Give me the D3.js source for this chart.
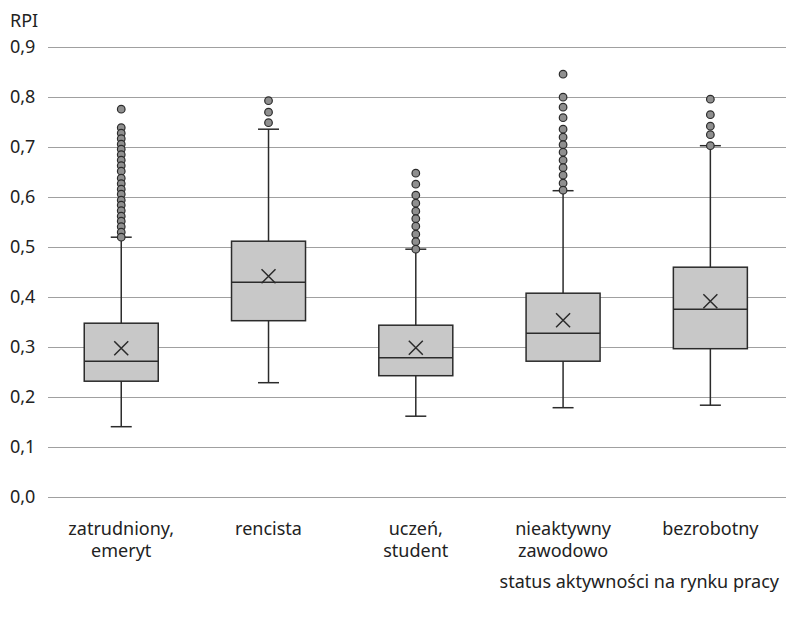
<!DOCTYPE html>
<html>
<head>
<meta charset="utf-8">
<script src="https://cdn.jsdelivr.net/npm/d3@7"></script>
<style>
  body { margin: 0; background: #fff; }
  text { font-family: "Noto Sans", "Open Sans", sans-serif; fill: #222; }
</style>
</head>
<body>
<svg></svg>
<script>
// --------------- data
const categories = [
  ['zatrudniony,', 'emeryt'],
  ['rencista'],
  ['uczeń,', 'student'],
  ['nieaktywny', 'zawodowo'],
  ['bezrobotny']
];
const whiskerLow = [0.140, 0.228, 0.161, 0.178, 0.183];
const q1 = [0.231, 0.352, 0.242, 0.271, 0.296];
const median = [0.271, 0.429, 0.278, 0.327, 0.375];
const q3 = [0.347, 0.511, 0.343, 0.407, 0.459];
const whiskerHigh = [0.519, 0.735, 0.495, 0.612, 0.702];
const mean = [0.297, 0.441, 0.298, 0.353, 0.391];
const outliers = [
  [0.775, 0.738, 0.727, 0.716, 0.705, 0.695, 0.684, 0.673, 0.662, 0.651, 0.637,
   0.626, 0.615, 0.605, 0.593, 0.583, 0.572, 0.561, 0.551, 0.540, 0.529, 0.519],
  [0.792, 0.769, 0.748],
  [0.647, 0.625, 0.603, 0.587, 0.571, 0.556, 0.541, 0.525, 0.510, 0.495],
  [0.845, 0.799, 0.779, 0.758, 0.735, 0.719, 0.704, 0.689, 0.673, 0.658, 0.643,
   0.627, 0.613],
  [0.795, 0.764, 0.741, 0.724, 0.702]
];
const yTicks = [0, 0.1, 0.2, 0.3, 0.4, 0.5, 0.6, 0.7, 0.8, 0.9];

// setup
const width = 786;
const height = 620;
const fontSize = 18;
const svg = d3.select('svg').attr('width', width).attr('height', height);

const yScale = d3.scaleLinear().domain([0, 0.9]).range([496.7, 46.7]);
const xScale = d3.scaleBand()
  .domain(d3.range(categories.length))
  .range([47.6, 784]);
const boxW = 74;
const capW = 21;
const fmt = function (v) { return d3.format('.1f')(v).replace('.', ','); };

// grid
svg.append('g')
  .selectAll('line')
  .data(yTicks)
  .enter()
  .append('line')
  .attr('x1', 48)
  .attr('x2', width)
  .attr('y1', function (d) { return Math.round(yScale(d)) + 0.5; })
  .attr('y2', function (d) { return Math.round(yScale(d)) + 0.5; })
  .attr('stroke', '#a0a0a0')
  .attr('stroke-width', 1.2);

// y labels
svg.append('g')
  .selectAll('text')
  .data(yTicks)
  .enter()
  .append('text')
  .attr('x', 10)
  .attr('y', function (d) { return yScale(d) + 6; })
  .attr('font-size', fontSize)
  .text(fmt);

svg.append('text')
  .attr('x', 10)
  .attr('y', 27)
  .attr('font-size', fontSize)
  .text('RPI');

// boxes
const cx = function (i) { return xScale(i) + xScale.bandwidth() / 2; };
const g = svg.append('g');
const stroke = '#2b2b2b';

categories.forEach(function (c, i) {
  const x = cx(i);
  // whiskers
  g.append('line')
    .attr('x1', x).attr('x2', x)
    .attr('y1', yScale(whiskerLow[i])).attr('y2', yScale(whiskerHigh[i]))
    .attr('stroke', stroke).attr('stroke-width', 1.5);
  [whiskerLow[i], whiskerHigh[i]].forEach(function (v) {
    g.append('line')
      .attr('x1', x - capW / 2).attr('x2', x + capW / 2)
      .attr('y1', yScale(v)).attr('y2', yScale(v))
      .attr('stroke', stroke).attr('stroke-width', 1.5);
  });
  // box
  g.append('rect')
    .attr('x', x - boxW / 2)
    .attr('y', yScale(q3[i]))
    .attr('width', boxW)
    .attr('height', yScale(q1[i]) - yScale(q3[i]))
    .attr('fill', '#c8c8c8')
    .attr('stroke', stroke)
    .attr('stroke-width', 1.5);
  g.append('line')
    .attr('x1', x - boxW / 2).attr('x2', x + boxW / 2)
    .attr('y1', yScale(median[i])).attr('y2', yScale(median[i]))
    .attr('stroke', stroke).attr('stroke-width', 1.5);
  // mean
  const my = yScale(mean[i]);
  const m = 7;
  g.append('path')
    .attr('d', 'M' + (x - m) + ',' + (my - m) + 'L' + (x + m) + ',' + (my + m) +
      'M' + (x - m) + ',' + (my + m) + 'L' + (x + m) + ',' + (my - m))
    .attr('stroke', stroke).attr('stroke-width', 1.5).attr('fill', 'none');
  // outliers
  g.append('g')
    .selectAll('circle')
    .data(outliers[i])
    .enter()
    .append('circle')
    .attr('cx', x)
    .attr('cy', function (d) { return yScale(d); })
    .attr('r', 3.8)
    .attr('fill', '#8f8f8f')
    .attr('stroke', stroke)
    .attr('stroke-width', 1.2);
  // category label, one text per line
  c.forEach(function (line, j) {
    svg.append('text')
      .attr('x', x)
      .attr('y', 535 + j * 22)
      .attr('text-anchor', 'middle')
      .attr('font-size', fontSize)
      .text(line);
  });
});

svg.append('text')
  .attr('x', 779)
  .attr('y', 588)
  .attr('text-anchor', 'end')
  .attr('font-size', fontSize)
  .text('status aktywności na rynku pracy');
</script>
</body>
</html>
